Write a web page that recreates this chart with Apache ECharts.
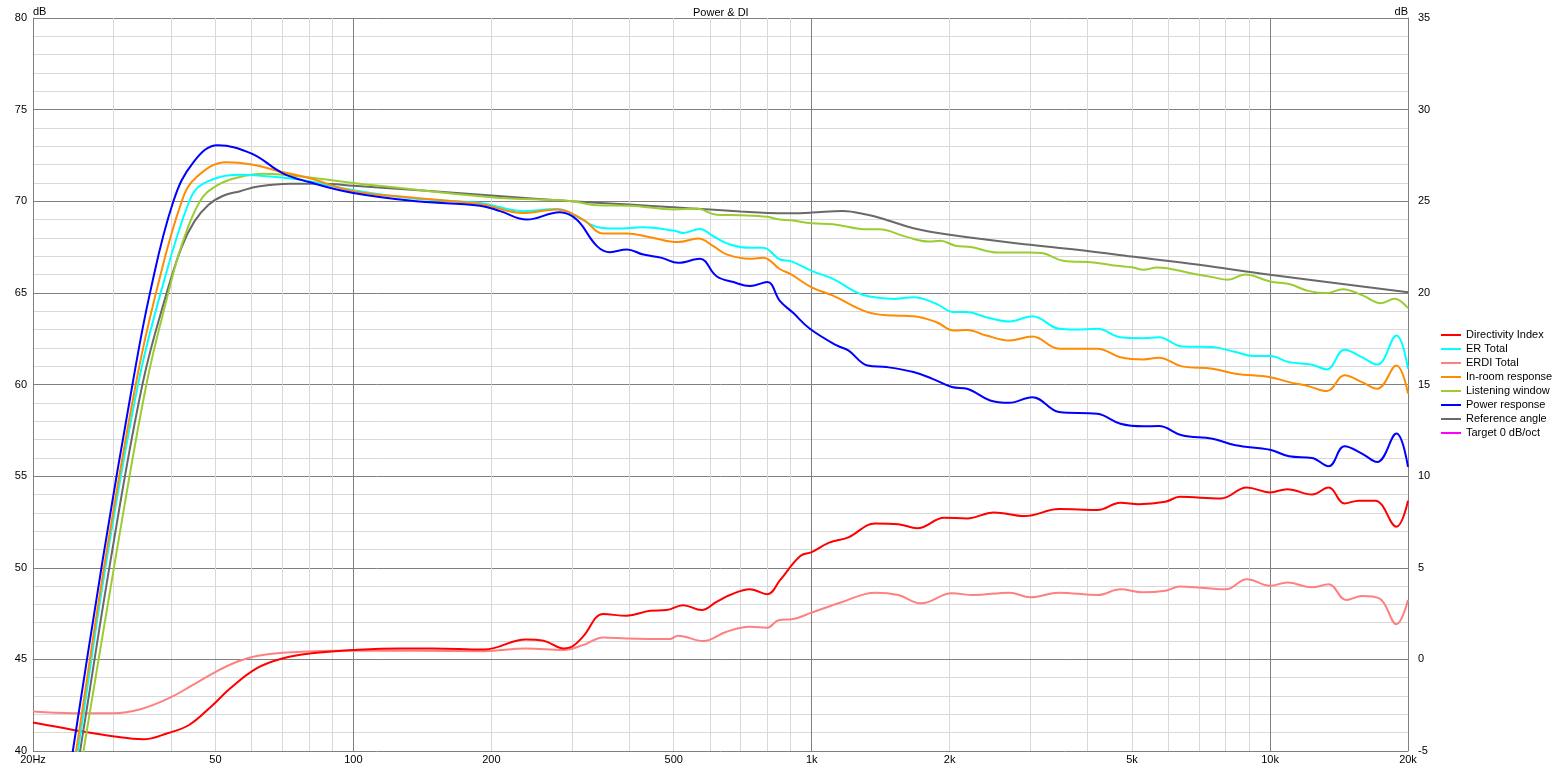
<!DOCTYPE html>
<html><head><meta charset="utf-8">
<script src="https://cdn.jsdelivr.net/npm/echarts@6/dist/echarts.min.js"></script>
<style>html,body{margin:0;padding:0;background:#fff}#c{width:1560px;height:769px}</style>
</head><body><div id="c"></div>
<script>
// ---- tick labels / grid ----
const tickFreqs = [20, 50, 100, 200, 500, 1000, 2000, 5000, 10000, 20000];
const tickLabels = ['20Hz', '50', '100', '200', '500', '1k', '2k', '5k', '10k', '20k'];
const gridFreqs = [30, 40, 50, 60, 70, 80, 90, 100, 200, 300, 400, 500, 600, 700, 800, 900,
  1000, 2000, 3000, 4000, 5000, 6000, 7000, 8000, 9000, 10000];

// ---- series: [frequency Hz, dB] ----
const directivityIndex = [[20,-3.45],[24.5,-3.85],[30.1,-4.21],[34.8,-4.36],[39.3,-4.03],[43.8,-3.58],[48.9,-2.58],[53.9,-1.58],[61.5,-0.49],[70,0.05],[81,0.33],[100,0.51],[126,0.6],[149,0.6],[193,0.54],[238,1.09],[260,1.02],[288,0.6],[300,0.69],[317,1.24],[351,2.47],[395,2.38],[444,2.65],[482,2.69],[524,2.96],[575,2.69],[620,3.14],[663,3.51],[733,3.83],[800,3.56],[853,4.32],[943,5.63],[1000,5.85],[1092,6.37],[1202,6.66],[1376,7.42],[1545,7.38],[1700,7.15],[1946,7.73],[2183,7.69],[2499,8.02],[2914,7.82],[3466,8.2],[4201,8.15],[4717,8.55],[5175,8.47],[5910,8.6],[6355,8.87],[7805,8.78],[8896,9.38],[10000,9.11],[10903,9.29],[12354,9.0],[13420,9.38],[14543,8.51],[15610,8.66],[16960,8.66],[18869,7.24],[20000,8.66]];
const erdiTotal = [[20,-2.85],[24.5,-2.94],[30,-2.94],[34.3,-2.72],[39.5,-2.13],[44,-1.49],[49.4,-0.76],[55.7,-0.13],[61.5,0.18],[70,0.36],[100,0.48],[193,0.45],[238,0.6],[288,0.51],[317,0.78],[351,1.2],[395,1.14],[490,1.11],[511,1.29],[580,1.0],[652,1.51],[733,1.78],[800,1.73],[847,2.14],[911,2.2],[1000,2.55],[1157,3.1],[1376,3.64],[1545,3.51],[1733,3.06],[2022,3.61],[2250,3.51],[2699,3.64],[3000,3.39],[3466,3.64],[4201,3.51],[4717,3.82],[5265,3.66],[5910,3.75],[6355,3.97],[7065,3.91],[8012,3.82],[8896,4.37],[10000,4.02],[10903,4.19],[12354,3.93],[13420,4.1],[14670,3.24],[15870,3.46],[17315,3.33],[18869,1.92],[20000,3.24]];
const erTotal = [[22.6,33],[25.05,40],[28.96,50.44],[33.94,60.07],[37.99,65],[43.86,70],[47.05,70.96],[56.6,71.45],[70,71.29],[80,71.09],[100,70.6],[137,70.13],[189,69.91],[235,69.46],[278,69.58],[307,69.18],[340,68.6],[375,68.51],[429,68.58],[500,68.4],[524,68.27],[570,68.49],[610,68.09],[663,67.64],[733,67.46],[784,67.46],[853,66.82],[900,66.73],[1000,66.2],[1113,65.76],[1250,65.04],[1336,64.8],[1514,64.67],[1667,64.76],[1872,64.4],[2041,63.95],[2183,63.95],[2405,63.67],[2699,63.44],[3029,63.73],[3466,63.04],[3744,63.0],[4201,63.04],[4717,62.58],[5297,62.53],[5720,62.58],[6420,62.08],[7489,62.04],[8408,61.77],[9253,61.55],[10000,61.55],[11006,61.22],[12354,61.08],[13300,60.82],[14543,61.89],[15870,61.49],[17135,61.09],[18869,62.67],[20000,60.86]];
const inRoomResponse = [[22.4,33],[24.84,40],[28.76,50.44],[33.55,60.07],[37.1,65],[42.23,70],[45.5,71.32],[52.9,72.13],[60,72.0],[70,71.6],[80,71.27],[100,70.55],[137,70.18],[189,69.85],[235,69.36],[278,69.55],[317,69.0],[351,68.24],[395,68.24],[444,68.04],[511,67.77],[566,67.97],[610,67.55],[652,67.1],[733,66.86],[784,66.92],[853,66.29],[900,66.02],[1000,65.3],[1113,64.85],[1324,63.95],[1514,63.76],[1667,63.73],[1872,63.4],[2041,62.95],[2183,62.98],[2405,62.67],[2699,62.4],[3029,62.62],[3466,61.95],[4201,61.95],[4717,61.49],[5297,61.37],[5720,61.46],[6420,60.99],[7489,60.86],[8408,60.59],[10000,60.4],[11006,60.13],[12120,59.91],[13300,59.64],[14543,60.5],[15870,60.13],[17135,59.77],[18869,61.04],[20000,59.5]];
const listeningWindow = [[23.1,33],[25.77,40],[30.24,50.44],[35.4,60.07],[39.47,65],[42.2,67.6],[46.28,70],[50.3,70.85],[56,71.3],[63.6,71.5],[72,71.42],[82,71.27],[100,71.0],[200,70.22],[300,70.0],[340,69.78],[400,69.76],[500,69.55],[560,69.6],[620,69.27],[700,69.24],[800,69.15],[850,69.0],[900,68.96],[1000,68.8],[1113,68.75],[1324,68.47],[1403,68.47],[1604,68.07],[1802,67.8],[1909,67.84],[2061,67.57],[2226,67.5],[2547,67.2],[3000,67.2],[3179,67.17],[3536,66.75],[4121,66.66],[4627,66.48],[5000,66.4],[5297,66.26],[5665,66.39],[6802,66.04],[7489,65.86],[8089,65.71],[8821,66.0],[10000,65.62],[11006,65.48],[12120,65.11],[13300,64.99],[14414,65.2],[15870,64.88],[17477,64.44],[18694,64.68],[20000,64.17]];
const powerResponse = [[22.1,33],[24.43,40],[28.39,50.44],[33.0,60.07],[36.0,65],[40.49,70],[44.8,72.14],[50.6,73.05],[60,72.6],[70,71.54],[80,71.05],[100,70.45],[137,70.0],[189,69.76],[209,69.46],[239,69.0],[282,69.4],[307,69.0],[340,67.55],[363,67.22],[395,67.37],[429,67.09],[471,66.91],[511,66.64],[570,66.86],[620,65.91],[675,65.59],[733,65.37],[800,65.59],[853,64.55],[911,63.91],[991,63.04],[1134,62.13],[1202,61.86],[1324,61.04],[1457,60.95],[1667,60.68],[1835,60.31],[2022,59.86],[2183,59.77],[2451,59.13],[2699,59.0],[3029,59.31],[3466,58.5],[4201,58.4],[4717,57.86],[5297,57.72],[5720,57.73],[6420,57.23],[7489,57.04],[8408,56.68],[10000,56.44],[11006,56.08],[12354,55.99],[13420,55.54],[14543,56.63],[15870,56.23],[17135,55.77],[18869,57.32],[20000,55.5]];
const referenceAngle = [[22.8,33],[25.34,40],[29.55,50.44],[34.7,60.07],[39.15,65],[42.2,67.5],[45,68.9],[48.25,69.8],[52,70.3],[56.6,70.55],[62,70.8],[72.7,70.95],[85,70.95],[100,70.85],[200,70.31],[300,70.0],[400,69.82],[500,69.67],[600,69.55],[700,69.44],[800,69.36],[900,69.35],[1000,69.38],[1168,69.47],[1324,69.26],[1457,68.98],[1667,68.53],[2000,68.17],[3000,67.62],[4000,67.29],[5000,66.98],[7000,66.53],[10000,65.99],[20000,65.04]];
const target0 = [];

const lg = v => Math.log10(v);
const toXY = arr => arr.map(p => [lg(p[0]), p[1]]);

const FONT = "'Liberation Sans', Arial, sans-serif";
const MAJOR = '#808080', MINOR = '#d9d9d9';
const xLineColors = [MINOR, MINOR, MINOR, MINOR, MINOR, MINOR, MINOR, MAJOR, MINOR];

function line(name, data, color, yAxisIndex, width) {
  return {
    name, type: 'line', data: toXY(data), yAxisIndex: yAxisIndex || 0,
    showSymbol: false, symbol: 'none', smooth: 0.4,
    color, lineStyle: { color, width: width || 2 }, clip: true, animation: false
  };
}

const chart = echarts.init(document.getElementById('c'), null, { renderer: 'canvas' });
chart.setOption({
  backgroundColor: '#fff',
  animation: false,
  textStyle: { fontFamily: FONT },
  title: {
    text: 'Power & DI', left: 688, top: 2,
    textStyle: { fontSize: 11, fontWeight: 'normal', color: '#000', fontFamily: FONT }
  },
  grid: { left: 33, right: 152, top: 18, bottom: 18, containLabel: false },
  legend: {
    orient: 'vertical', left: 1441, top: 328, padding: 0,
    itemWidth: 20, itemHeight: 2, itemGap: 0, icon: 'rect', selectedMode: false,
    textStyle: { fontSize: 11, lineHeight: 14, color: '#000', fontFamily: FONT },
    data: ['Directivity Index', 'ER Total', 'ERDI Total', 'In-room response', 'Listening window',
      'Power response', 'Reference angle', 'Target 0 dB/oct']
  },
  xAxis: {
    type: 'value', min: lg(20), max: lg(20000),
    axisLine: { show: true, lineStyle: { color: MAJOR, width: 1 } },
    axisTick: { show: false, customValues: gridFreqs.map(lg) },
    axisLabel: {
      show: true, margin: 3, fontSize: 11, color: '#000', fontFamily: FONT,
      customValues: tickFreqs.map(lg),
      formatter: v => {
        let best = 0, d = 1e9;
        tickFreqs.forEach((f, i) => { const dd = Math.abs(lg(f) - v); if (dd < d) { d = dd; best = i; } });
        return tickLabels[best];
      }
    },
    splitLine: { show: true, lineStyle: { color: xLineColors, width: 1 } }
  },
  yAxis: [{
    type: 'value', min: 40, max: 80, interval: 5, position: 'left',
    name: 'dB', nameLocation: 'end', nameGap: 1,
    nameTextStyle: { fontSize: 11, color: '#000', align: 'left', verticalAlign: 'bottom', fontFamily: FONT },
    axisLine: { show: true, lineStyle: { color: MAJOR, width: 1 } },
    axisTick: { show: false },
    axisLabel: { margin: 6, fontSize: 11, color: '#000', fontFamily: FONT },
    splitLine: { show: true, lineStyle: { color: MAJOR, width: 1 } },
    minorTick: { show: false, splitNumber: 5 },
    minorSplitLine: { show: true, lineStyle: { color: MINOR, width: 1 } }
  }, {
    type: 'value', min: -5, max: 35, interval: 5, position: 'right',
    name: 'dB', nameLocation: 'end', nameGap: 1,
    nameTextStyle: { fontSize: 11, color: '#000', align: 'right', verticalAlign: 'bottom', fontFamily: FONT },
    axisLine: { show: true, lineStyle: { color: MAJOR, width: 1 } },
    axisTick: { show: false },
    axisLabel: { margin: 10, fontSize: 11, color: '#000', fontFamily: FONT },
    splitLine: { show: false }
  }],
  series: [
    line('ERDI Total', erdiTotal, '#ff8080', 1),
    line('Directivity Index', directivityIndex, '#ff0000', 1),
    line('Reference angle', referenceAngle, '#696969', 0),
    line('Listening window', listeningWindow, '#9acd32', 0),
    line('ER Total', erTotal, '#00ffff', 0),
    line('In-room response', inRoomResponse, '#ff8c00', 0),
    line('Power response', powerResponse, '#0000ff', 0),
    line('Target 0 dB/oct', target0, '#ff00ff', 0, 1)
  ]
});
</script>
</body></html>
